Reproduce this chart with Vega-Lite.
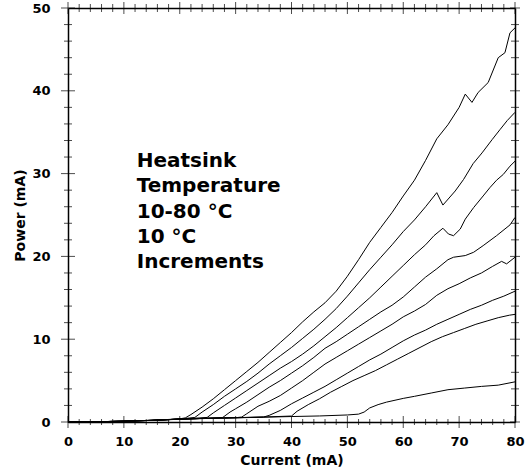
{
  "$schema": "https://vega.github.io/schema/vega-lite/v6.json",
  "width": 447,
  "height": 414,
  "autosize": {"type": "none"},
  "padding": {"left": 68, "top": 8, "right": 11, "bottom": 54},
  "background": "white",
  "config": {
    "view": {"stroke": null},
    "axis": {
      "grid": false,
      "domainColor": "black",
      "domainWidth": 1.5,
      "labelFont": "DejaVu Sans",
      "labelFontWeight": "bold",
      "labelFontSize": 13,
      "labelColor": "black",
      "labelOverlap": false,
      "labelFlush": false,
      "titleFont": "DejaVu Sans",
      "titleFontWeight": "bold",
      "titleFontSize": 14,
      "titleColor": "black"
    },
    "tick": {"color": "black", "thickness": 1, "clip": true}
  },
  "datasets": {
    "curves": [
      {"T": 10, "I": 0, "P": 0}, {"T": 10, "I": 5, "P": 0.03}, {"T": 10, "I": 10, "P": 0.1}, {"T": 10, "I": 15, "P": 0.2}, {"T": 10, "I": 20, "P": 0.38}, {"T": 10, "I": 21, "P": 0.5}, {"T": 10, "I": 22, "P": 0.9}, {"T": 10, "I": 24, "P": 1.8}, {"T": 10, "I": 26, "P": 2.8}, {"T": 10, "I": 28, "P": 3.9}, {"T": 10, "I": 30, "P": 5.0}, {"T": 10, "I": 32, "P": 6.1}, {"T": 10, "I": 34, "P": 7.2}, {"T": 10, "I": 36, "P": 8.4}, {"T": 10, "I": 38, "P": 9.6}, {"T": 10, "I": 40, "P": 10.8}, {"T": 10, "I": 42, "P": 12.1}, {"T": 10, "I": 44, "P": 13.3}, {"T": 10, "I": 46, "P": 14.4}, {"T": 10, "I": 48, "P": 15.8}, {"T": 10, "I": 50, "P": 17.6}, {"T": 10, "I": 52, "P": 19.6}, {"T": 10, "I": 54, "P": 21.7}, {"T": 10, "I": 56, "P": 23.5}, {"T": 10, "I": 58, "P": 25.3}, {"T": 10, "I": 60, "P": 27.3}, {"T": 10, "I": 62, "P": 29.2}, {"T": 10, "I": 64, "P": 31.6}, {"T": 10, "I": 66, "P": 34.2}, {"T": 10, "I": 68, "P": 35.9}, {"T": 10, "I": 70, "P": 38.0}, {"T": 10, "I": 71.1, "P": 39.6}, {"T": 10, "I": 72.3, "P": 38.6}, {"T": 10, "I": 73.4, "P": 39.8}, {"T": 10, "I": 75.2, "P": 41.0}, {"T": 10, "I": 77, "P": 44.0}, {"T": 10, "I": 78.2, "P": 44.6}, {"T": 10, "I": 79.1, "P": 47.0}, {"T": 10, "I": 80, "P": 47.6},

      {"T": 20, "I": 0, "P": 0}, {"T": 20, "I": 5, "P": 0.03}, {"T": 20, "I": 10, "P": 0.1}, {"T": 20, "I": 15, "P": 0.2}, {"T": 20, "I": 20, "P": 0.36}, {"T": 20, "I": 22.7, "P": 0.55}, {"T": 20, "I": 24, "P": 1.2}, {"T": 20, "I": 26, "P": 2.1}, {"T": 20, "I": 28, "P": 3.1}, {"T": 20, "I": 30, "P": 4.0}, {"T": 20, "I": 32, "P": 4.9}, {"T": 20, "I": 34, "P": 5.9}, {"T": 20, "I": 36, "P": 7.0}, {"T": 20, "I": 38, "P": 8.0}, {"T": 20, "I": 40, "P": 9.0}, {"T": 20, "I": 42, "P": 10.1}, {"T": 20, "I": 44, "P": 11.2}, {"T": 20, "I": 46, "P": 12.4}, {"T": 20, "I": 48, "P": 13.7}, {"T": 20, "I": 50, "P": 15.2}, {"T": 20, "I": 52, "P": 16.8}, {"T": 20, "I": 54, "P": 18.4}, {"T": 20, "I": 56, "P": 19.9}, {"T": 20, "I": 58, "P": 21.4}, {"T": 20, "I": 60, "P": 23.0}, {"T": 20, "I": 62, "P": 24.4}, {"T": 20, "I": 64, "P": 26.0}, {"T": 20, "I": 66, "P": 27.7}, {"T": 20, "I": 67.1, "P": 26.2}, {"T": 20, "I": 69.3, "P": 27.9}, {"T": 20, "I": 70.8, "P": 29.3}, {"T": 20, "I": 72.5, "P": 31.2}, {"T": 20, "I": 74.1, "P": 32.5}, {"T": 20, "I": 75.9, "P": 34.1}, {"T": 20, "I": 77.3, "P": 35.3}, {"T": 20, "I": 78.6, "P": 36.4}, {"T": 20, "I": 80, "P": 37.4},

      {"T": 30, "I": 0, "P": 0}, {"T": 30, "I": 5, "P": 0.03}, {"T": 30, "I": 10, "P": 0.1}, {"T": 30, "I": 15, "P": 0.2}, {"T": 30, "I": 20, "P": 0.35}, {"T": 30, "I": 24.9, "P": 0.55}, {"T": 30, "I": 26, "P": 1.1}, {"T": 30, "I": 28, "P": 2.0}, {"T": 30, "I": 30, "P": 2.9}, {"T": 30, "I": 32, "P": 3.8}, {"T": 30, "I": 34, "P": 4.7}, {"T": 30, "I": 36, "P": 5.6}, {"T": 30, "I": 38, "P": 6.5}, {"T": 30, "I": 40, "P": 7.3}, {"T": 30, "I": 42, "P": 8.2}, {"T": 30, "I": 44, "P": 9.2}, {"T": 30, "I": 46, "P": 10.3}, {"T": 30, "I": 48, "P": 11.4}, {"T": 30, "I": 50, "P": 12.6}, {"T": 30, "I": 52, "P": 13.8}, {"T": 30, "I": 54, "P": 15.0}, {"T": 30, "I": 56, "P": 16.3}, {"T": 30, "I": 58, "P": 17.6}, {"T": 30, "I": 60, "P": 18.9}, {"T": 30, "I": 62, "P": 20.2}, {"T": 30, "I": 64, "P": 21.4}, {"T": 30, "I": 65.5, "P": 22.5}, {"T": 30, "I": 67.1, "P": 23.4}, {"T": 30, "I": 68.1, "P": 22.7}, {"T": 30, "I": 69.0, "P": 22.5}, {"T": 30, "I": 70.2, "P": 23.3}, {"T": 30, "I": 71.1, "P": 24.5}, {"T": 30, "I": 72.6, "P": 25.9}, {"T": 30, "I": 74.3, "P": 27.3}, {"T": 30, "I": 75.5, "P": 28.3}, {"T": 30, "I": 76.7, "P": 29.2}, {"T": 30, "I": 77.9, "P": 29.9}, {"T": 30, "I": 79.1, "P": 30.9}, {"T": 30, "I": 80, "P": 31.5},

      {"T": 40, "I": 0, "P": 0}, {"T": 40, "I": 5, "P": 0.03}, {"T": 40, "I": 10, "P": 0.1}, {"T": 40, "I": 15, "P": 0.2}, {"T": 40, "I": 20, "P": 0.35}, {"T": 40, "I": 25, "P": 0.45}, {"T": 40, "I": 27.7, "P": 0.55}, {"T": 40, "I": 29, "P": 1.2}, {"T": 40, "I": 30, "P": 1.6}, {"T": 40, "I": 32, "P": 2.4}, {"T": 40, "I": 34, "P": 3.3}, {"T": 40, "I": 36, "P": 4.2}, {"T": 40, "I": 38, "P": 5.0}, {"T": 40, "I": 40, "P": 5.9}, {"T": 40, "I": 42, "P": 6.8}, {"T": 40, "I": 44, "P": 7.8}, {"T": 40, "I": 46, "P": 8.9}, {"T": 40, "I": 48, "P": 9.7}, {"T": 40, "I": 50, "P": 10.6}, {"T": 40, "I": 52, "P": 11.5}, {"T": 40, "I": 54, "P": 12.4}, {"T": 40, "I": 56, "P": 13.3}, {"T": 40, "I": 58, "P": 14.1}, {"T": 40, "I": 60, "P": 15.1}, {"T": 40, "I": 62, "P": 16.3}, {"T": 40, "I": 64, "P": 17.5}, {"T": 40, "I": 66, "P": 18.5}, {"T": 40, "I": 68, "P": 19.6}, {"T": 40, "I": 69, "P": 19.9}, {"T": 40, "I": 71.1, "P": 20.1}, {"T": 40, "I": 72.6, "P": 20.5}, {"T": 40, "I": 74.3, "P": 21.3}, {"T": 40, "I": 76.7, "P": 22.5}, {"T": 40, "I": 79.1, "P": 23.8}, {"T": 40, "I": 80, "P": 24.7},

      {"T": 50, "I": 0, "P": 0}, {"T": 50, "I": 5, "P": 0.03}, {"T": 50, "I": 10, "P": 0.1}, {"T": 50, "I": 15, "P": 0.2}, {"T": 50, "I": 20, "P": 0.35}, {"T": 50, "I": 25, "P": 0.45}, {"T": 50, "I": 30, "P": 0.52}, {"T": 50, "I": 31.1, "P": 0.6}, {"T": 50, "I": 32, "P": 1.0}, {"T": 50, "I": 34, "P": 1.9}, {"T": 50, "I": 36, "P": 2.5}, {"T": 50, "I": 38, "P": 3.2}, {"T": 50, "I": 40, "P": 4.1}, {"T": 50, "I": 42, "P": 5.0}, {"T": 50, "I": 44, "P": 6.0}, {"T": 50, "I": 46, "P": 7.0}, {"T": 50, "I": 48, "P": 7.8}, {"T": 50, "I": 50, "P": 8.6}, {"T": 50, "I": 52, "P": 9.4}, {"T": 50, "I": 54, "P": 10.2}, {"T": 50, "I": 56, "P": 11.0}, {"T": 50, "I": 58, "P": 11.8}, {"T": 50, "I": 60, "P": 12.7}, {"T": 50, "I": 62, "P": 13.4}, {"T": 50, "I": 64, "P": 14.2}, {"T": 50, "I": 66, "P": 15.3}, {"T": 50, "I": 68, "P": 16.1}, {"T": 50, "I": 70, "P": 16.7}, {"T": 50, "I": 72, "P": 17.4}, {"T": 50, "I": 74, "P": 18.0}, {"T": 50, "I": 76, "P": 18.8}, {"T": 50, "I": 77.6, "P": 19.4}, {"T": 50, "I": 78.5, "P": 19.1}, {"T": 50, "I": 80, "P": 19.9},

      {"T": 60, "I": 0, "P": 0}, {"T": 60, "I": 5, "P": 0.03}, {"T": 60, "I": 10, "P": 0.1}, {"T": 60, "I": 15, "P": 0.2}, {"T": 60, "I": 20, "P": 0.35}, {"T": 60, "I": 25, "P": 0.45}, {"T": 60, "I": 30, "P": 0.52}, {"T": 60, "I": 35, "P": 0.6}, {"T": 60, "I": 36, "P": 0.8}, {"T": 60, "I": 38, "P": 1.4}, {"T": 60, "I": 40, "P": 2.2}, {"T": 60, "I": 42, "P": 2.9}, {"T": 60, "I": 44, "P": 3.6}, {"T": 60, "I": 46, "P": 4.3}, {"T": 60, "I": 48, "P": 5.1}, {"T": 60, "I": 50, "P": 5.9}, {"T": 60, "I": 52, "P": 6.7}, {"T": 60, "I": 54, "P": 7.5}, {"T": 60, "I": 56, "P": 8.2}, {"T": 60, "I": 58, "P": 9.0}, {"T": 60, "I": 60, "P": 9.8}, {"T": 60, "I": 62, "P": 10.5}, {"T": 60, "I": 64, "P": 11.1}, {"T": 60, "I": 66, "P": 11.8}, {"T": 60, "I": 68, "P": 12.4}, {"T": 60, "I": 70, "P": 13.0}, {"T": 60, "I": 72, "P": 13.6}, {"T": 60, "I": 74, "P": 14.1}, {"T": 60, "I": 76, "P": 14.7}, {"T": 60, "I": 78, "P": 15.2}, {"T": 60, "I": 80, "P": 15.8},

      {"T": 70, "I": 0, "P": 0}, {"T": 70, "I": 5, "P": 0.03}, {"T": 70, "I": 10, "P": 0.1}, {"T": 70, "I": 15, "P": 0.2}, {"T": 70, "I": 20, "P": 0.35}, {"T": 70, "I": 25, "P": 0.45}, {"T": 70, "I": 30, "P": 0.52}, {"T": 70, "I": 35, "P": 0.6}, {"T": 70, "I": 40, "P": 0.72}, {"T": 70, "I": 41, "P": 1.3}, {"T": 70, "I": 43, "P": 2.1}, {"T": 70, "I": 45, "P": 2.8}, {"T": 70, "I": 47, "P": 3.6}, {"T": 70, "I": 49, "P": 4.3}, {"T": 70, "I": 51, "P": 5.0}, {"T": 70, "I": 53, "P": 5.6}, {"T": 70, "I": 55, "P": 6.2}, {"T": 70, "I": 57, "P": 6.9}, {"T": 70, "I": 59, "P": 7.6}, {"T": 70, "I": 61, "P": 8.3}, {"T": 70, "I": 63, "P": 9.0}, {"T": 70, "I": 65, "P": 9.7}, {"T": 70, "I": 67, "P": 10.3}, {"T": 70, "I": 69, "P": 10.8}, {"T": 70, "I": 71, "P": 11.3}, {"T": 70, "I": 73, "P": 11.8}, {"T": 70, "I": 75, "P": 12.2}, {"T": 70, "I": 77, "P": 12.6}, {"T": 70, "I": 79, "P": 12.9}, {"T": 70, "I": 80, "P": 13.0},

      {"T": 80, "I": 0, "P": 0}, {"T": 80, "I": 5, "P": 0.03}, {"T": 80, "I": 10, "P": 0.1}, {"T": 80, "I": 15, "P": 0.2}, {"T": 80, "I": 20, "P": 0.33}, {"T": 80, "I": 25, "P": 0.43}, {"T": 80, "I": 30, "P": 0.5}, {"T": 80, "I": 35, "P": 0.58}, {"T": 80, "I": 40, "P": 0.66}, {"T": 80, "I": 45, "P": 0.73}, {"T": 80, "I": 50, "P": 0.85}, {"T": 80, "I": 52, "P": 0.95}, {"T": 80, "I": 53, "P": 1.2}, {"T": 80, "I": 54, "P": 1.7}, {"T": 80, "I": 55.5, "P": 2.1}, {"T": 80, "I": 57, "P": 2.4}, {"T": 80, "I": 60, "P": 2.85}, {"T": 80, "I": 62, "P": 3.1}, {"T": 80, "I": 65, "P": 3.5}, {"T": 80, "I": 68, "P": 3.9}, {"T": 80, "I": 71, "P": 4.1}, {"T": 80, "I": 74, "P": 4.3}, {"T": 80, "I": 77, "P": 4.45}, {"T": 80, "I": 80, "P": 4.85}
    ],
    "note": [
      {"I": 12.3, "P": 30.8, "label": "Heatsink\nTemperature\n10-80 °C\n10 °C\nIncrements"}
    ],
    "xMajor": [{"v": 0}, {"v": 10}, {"v": 20}, {"v": 30}, {"v": 40}, {"v": 50}, {"v": 60}, {"v": 70}, {"v": 80}],
    "xMinor": [{"v": 2}, {"v": 4}, {"v": 6}, {"v": 8}, {"v": 12}, {"v": 14}, {"v": 16}, {"v": 18}, {"v": 22}, {"v": 24}, {"v": 26}, {"v": 28}, {"v": 32}, {"v": 34}, {"v": 36}, {"v": 38}, {"v": 42}, {"v": 44}, {"v": 46}, {"v": 48}, {"v": 52}, {"v": 54}, {"v": 56}, {"v": 58}, {"v": 62}, {"v": 64}, {"v": 66}, {"v": 68}, {"v": 72}, {"v": 74}, {"v": 76}, {"v": 78}],
    "yMajor": [{"v": 0}, {"v": 10}, {"v": 20}, {"v": 30}, {"v": 40}, {"v": 50}],
    "yMinor": [{"v": 2}, {"v": 4}, {"v": 6}, {"v": 8}, {"v": 12}, {"v": 14}, {"v": 16}, {"v": 18}, {"v": 22}, {"v": 24}, {"v": 26}, {"v": 28}, {"v": 32}, {"v": 34}, {"v": 36}, {"v": 38}, {"v": 42}, {"v": 44}, {"v": 46}, {"v": 48}]
  },
  "layer": [
    {
      "data": {"name": "curves"},
      "mark": {"type": "line", "color": "black", "strokeWidth": 1},
      "encoding": {
        "x": {
          "field": "I", "type": "quantitative",
          "scale": {"domain": [0, 80], "nice": false},
          "axis": {"orient": "bottom", "title": "Current (mA)", "values": [0, 10, 20, 30, 40, 50, 60, 70, 80], "ticks": false, "labelPadding": 13, "titlePadding": 5}
        },
        "y": {
          "field": "P", "type": "quantitative",
          "scale": {"domain": [0, 50], "nice": false},
          "axis": {"orient": "left", "title": "Power (mA)", "values": [0, 10, 20, 30, 40, 50], "ticks": false, "labelPadding": 18, "titlePadding": 4}
        },
        "detail": {"field": "T", "type": "nominal"}
      }
    },
    {
      "data": {"name": "note"},
      "mark": {"type": "text", "align": "left", "baseline": "alphabetic", "font": "DejaVu Sans", "fontWeight": "bold", "fontSize": 20, "lineHeight": 25.3, "lineBreak": "\n", "color": "black"},
      "encoding": {
        "x": {
          "field": "I", "type": "quantitative",
          "scale": {"domain": [0, 80], "nice": false},
          "axis": {"orient": "top", "title": null, "labels": false, "ticks": false, "values": [0, 80]}
        },
        "y": {
          "field": "P", "type": "quantitative",
          "scale": {"domain": [0, 50], "nice": false},
          "axis": {"orient": "right", "title": null, "labels": false, "ticks": false, "values": [0, 50]}
        },
        "text": {"field": "label"}
      }
    },
    {
      "data": {"name": "xMajor"},
      "mark": {"type": "tick", "orient": "vertical", "size": 12},
      "encoding": {
        "x": {"field": "v", "type": "quantitative", "axis": null},
        "y": {"datum": 0, "type": "quantitative", "axis": null}
      }
    },
    {
      "data": {"name": "xMajor"},
      "mark": {"type": "tick", "orient": "vertical", "size": 12},
      "encoding": {
        "x": {"field": "v", "type": "quantitative", "axis": null},
        "y": {"datum": 50, "type": "quantitative", "axis": null}
      }
    },
    {
      "data": {"name": "xMinor"},
      "mark": {"type": "tick", "orient": "vertical", "size": 6},
      "encoding": {
        "x": {"field": "v", "type": "quantitative", "axis": null},
        "y": {"datum": 0, "type": "quantitative", "axis": null}
      }
    },
    {
      "data": {"name": "xMinor"},
      "mark": {"type": "tick", "orient": "vertical", "size": 8},
      "encoding": {
        "x": {"field": "v", "type": "quantitative", "axis": null},
        "y": {"datum": 50, "type": "quantitative", "axis": null}
      }
    },
    {
      "data": {"name": "yMajor"},
      "mark": {"type": "tick", "orient": "horizontal", "size": 14},
      "encoding": {
        "y": {"field": "v", "type": "quantitative", "axis": null},
        "x": {"datum": 0, "type": "quantitative", "axis": null}
      }
    },
    {
      "data": {"name": "yMajor"},
      "mark": {"type": "tick", "orient": "horizontal", "size": 10},
      "encoding": {
        "y": {"field": "v", "type": "quantitative", "axis": null},
        "x": {"datum": 80, "type": "quantitative", "axis": null}
      }
    },
    {
      "data": {"name": "yMinor"},
      "mark": {"type": "tick", "orient": "horizontal", "size": 8},
      "encoding": {
        "y": {"field": "v", "type": "quantitative", "axis": null},
        "x": {"datum": 0, "type": "quantitative", "axis": null}
      }
    },
    {
      "data": {"name": "yMinor"},
      "mark": {"type": "tick", "orient": "horizontal", "size": 8},
      "encoding": {
        "y": {"field": "v", "type": "quantitative", "axis": null},
        "x": {"datum": 80, "type": "quantitative", "axis": null}
      }
    }
  ],
  "resolve": {"axis": {"x": "independent", "y": "independent"}}
}
